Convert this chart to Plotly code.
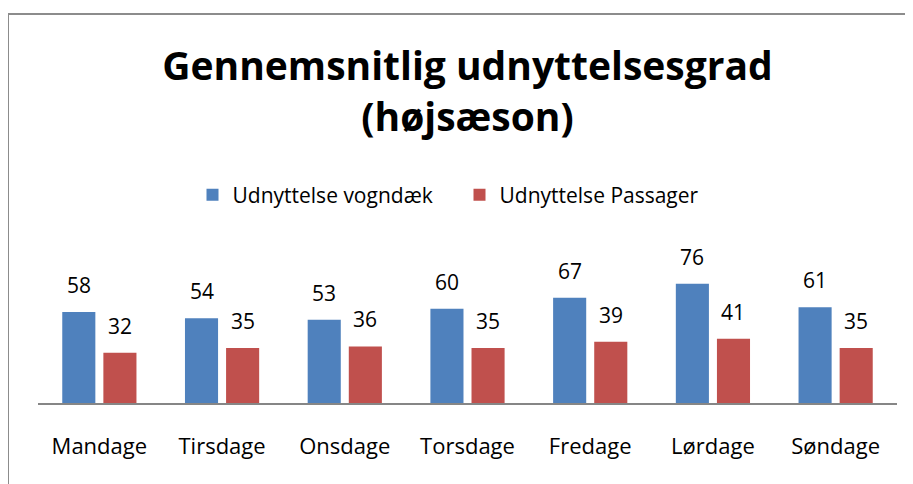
import plotly.graph_objects as go

categories = ["Mandage", "Tirsdage", "Onsdage", "Torsdage", "Fredage", "Lørdage", "Søndage"]
vogndaek = [58, 54, 53, 60, 67, 76, 61]
passager = [32, 35, 36, 35, 39, 41, 35]
series_names = ["Udnyttelse vogndæk", "Udnyttelse Passager"]
colors = ["#4F81BD", "#C0504D"]

FONT = "Open Sans"
W, H = 913, 484
OFF = 8  # page body margin offset
L = 38 - OFF
R = W - (897 - OFF)
AX = 403 - OFF
T = 246 - OFF
B = H - AX

fig = go.Figure()
for name, vals, col in zip(series_names, [vogndaek, passager], colors):
    fig.add_trace(go.Bar(x=categories, y=vals, name=name, marker=dict(color=col, line=dict(width=0))))

annotations = []
for vals, shift in [(vogndaek, -20.5), (passager, 20.5)]:
    for c, v in zip(categories, vals):
        annotations.append(dict(x=c, y=v, xref="x", yref="y", text=str(v), showarrow=False,
                                xshift=shift, yanchor="bottom", yshift=11,
                                font=dict(family=FONT, size=21, color="#000")))

ph = H - T - B
pw = W - L - R
fig.update_layout(
    width=W, height=H,
    margin=dict(l=L, r=R, t=T, b=B, pad=0),
    paper_bgcolor="white", plot_bgcolor="white",
    barmode="group", bargap=0.33, bargroupgap=0.195,
    font=dict(family=FONT, size=21, color="#000"),
    title=dict(text="<b>Gennemsnitlig udnyttelsesgrad<br>(højsæson)</b>",
               x=0.5, xref="paper", xanchor="center",
               y=1 - 72 / H, yref="container", yanchor="middle",
               font=dict(family=FONT, size=39, color="#000")),
    legend=dict(orientation="h", x=0.5 - 8 / pw, xanchor="center", y=(AX - (195 - OFF)) / ph, yanchor="middle",
                font=dict(family=FONT, size=21, color="#000"), itemwidth=30, entrywidth=222,
                bgcolor="rgba(0,0,0,0)"),
    xaxis=dict(showline=True, linecolor="#868686", linewidth=2, ticks="outside", ticklen=23,
               tickcolor="rgba(0,0,0,0)", showgrid=False, zeroline=False,
               tickfont=dict(family=FONT, size=22, color="#000")),
    yaxis=dict(range=[0, 100], visible=False, showgrid=False, zeroline=False),
    annotations=annotations,
    shapes=[dict(type="rect", xref="paper", yref="paper",
                 x0=(8 - OFF - L) / pw, x1=(930 - L) / pw,
                 y0=-(500 - AX) / ph, y1=(AX - (14 - OFF)) / ph,
                 line=dict(color="#8C8C8C", width=2), fillcolor="rgba(0,0,0,0)", layer="below")],
)

fig.write_html("out.html")
